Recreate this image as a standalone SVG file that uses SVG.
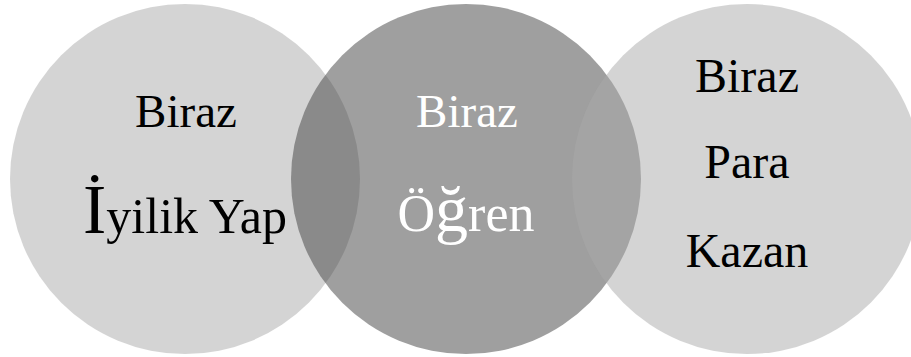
<svg xmlns="http://www.w3.org/2000/svg" width="911" height="357" viewBox="0 0 911 357">
<style>
.light{fill:#a9a9a9;fill-opacity:0.5}
.dark{fill:#404040;fill-opacity:0.5}
text{text-anchor:middle}
.blk{fill:#000}
.wht{fill:#fff}
</style>
<rect width="911" height="357" fill="#fff"/>
<g id="left" font-family="'Liberation Serif', 'DejaVu Serif', serif">
<circle class="light" cx="185" cy="179" r="175"/>
<text class="blk" x="186" y="127" font-size="47">Biraz</text>
<text class="blk" x="185" y="233" font-size="50"><tspan font-size="70">İ</tspan>yilik Yap</text>
</g>
<g id="middle" font-family="'Liberation Serif', 'DejaVu Serif', serif">
<circle class="dark" cx="466" cy="179" r="175"/>
<text class="wht" x="467" y="127" font-size="47">Biraz</text>
<text class="wht" x="466" y="231" font-size="52">Ö<tspan font-size="66">ğ</tspan>ren</text>
</g>
<g id="right" font-family="'Liberation Serif', 'DejaVu Serif', serif">
<circle class="light" cx="747" cy="179" r="175"/>
<text class="blk" x="747" y="92" font-size="48">Biraz</text>
<text class="blk" x="747" y="178" font-size="48">Para</text>
<text class="blk" x="747" y="267" font-size="48">Kazan</text>
</g>
<g id="connectors"/>
</svg>
